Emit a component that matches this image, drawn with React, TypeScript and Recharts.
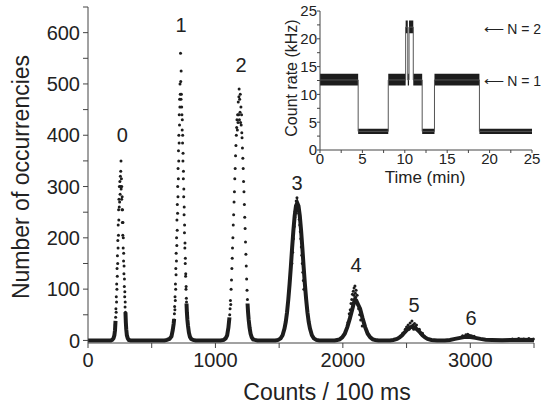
import React from "react";
import { ComposedChart, Scatter, Line, Area, XAxis, YAxis } from "recharts";

const FONT = "'Liberation Sans', Arial, Helvetica, sans-serif";
const INK = "#1d1d1d";

// histogram points (counts per 100 ms, occurrences)
const peak0: [number, number][] = [
  [214, 30], [217, 45], [219, 62], [221, 55], [222, 85], [224, 75], [225, 110], [227, 100],
  [228, 140], [230, 125], [231, 165], [233, 150], [234, 195], [236, 180], [237, 225], [239, 205],
  [240, 255], [242, 235], [243, 275], [245, 260], [246, 300], [248, 270], [250, 310], [252, 285],
  [254, 320], [256, 300], [257, 330], [259, 350], [260, 295], [262, 315], [264, 275], [265, 300],
  [267, 255], [268, 280], [270, 230], [271, 255], [273, 205], [274, 230], [276, 180], [277, 200],
  [279, 155], [280, 170], [282, 130], [283, 145], [285, 105], [286, 120], [288, 85], [289, 95],
  [291, 65], [292, 75], [294, 55],
];
const peak1: [number, number][] = [
  [676, 40], [678, 52], [680, 66], [682, 60], [683, 85], [685, 78], [686, 110], [688, 100],
  [689, 140], [691, 128], [692, 170], [694, 155], [695, 200], [697, 185], [698, 235], [700, 215],
  [701, 265], [703, 248], [704, 300], [706, 280], [707, 335], [709, 315], [710, 370], [712, 350],
  [713, 400], [715, 385], [716, 440], [718, 420], [719, 470], [721, 455], [722, 500], [724, 480],
  [726, 560], [728, 505], [730, 470], [731, 525], [733, 480], [735, 455], [737, 440], [739, 410],
  [740, 430], [742, 385], [743, 400], [745, 350], [746, 365], [748, 315], [749, 330], [751, 280],
  [752, 295], [754, 245], [755, 260], [757, 210], [758, 225], [760, 180], [761, 190], [763, 150],
  [764, 160], [766, 125], [767, 130], [769, 100], [770, 105], [772, 82], [773, 75],
];
const peak2: [number, number][] = [
  [1112, 50], [1115, 62], [1118, 78], [1120, 70], [1123, 100], [1126, 118], [1129, 140],
  [1132, 160], [1134, 180], [1137, 200], [1140, 225], [1143, 245], [1146, 270], [1149, 290],
  [1152, 315], [1155, 335], [1158, 360], [1161, 380], [1164, 400], [1167, 415], [1169, 430],
  [1172, 410], [1174, 440], [1177, 425], [1179, 465], [1182, 440], [1184, 475], [1186, 490],
  [1188, 430], [1190, 470], [1193, 445], [1195, 480], [1197, 425], [1200, 455], [1202, 420],
  [1205, 440], [1207, 405], [1209, 395], [1212, 375], [1215, 355], [1218, 335], [1221, 310],
  [1224, 290], [1227, 265], [1230, 240], [1233, 218], [1236, 192], [1239, 168], [1242, 145],
  [1245, 120], [1248, 98], [1251, 80],
];
const peak3: [number, number][] = [
  [1600, 150], [1606, 172], [1612, 198], [1618, 222], [1622, 240], [1626, 252], [1630, 262],
  [1634, 272], [1637, 260], [1640, 278], [1643, 268], [1646, 262], [1650, 255], [1654, 248],
  [1658, 236], [1662, 225], [1666, 212], [1670, 198], [1674, 182], [1678, 166], [1682, 150],
  [1686, 133], [1690, 117], [1694, 100],
];
const peak4: [number, number][] = [
  [2040, 35], [2050, 52], [2058, 60], [2064, 72], [2070, 80], [2075, 90], [2078, 70],
  [2082, 96], [2086, 88], [2088, 102], [2092, 78], [2095, 106], [2098, 92], [2100, 84],
  [2104, 98], [2108, 76], [2112, 88], [2118, 70], [2124, 62], [2132, 50], [2140, 40], [2152, 28],
];
const peak5: [number, number][] = [
  [2470, 14], [2490, 22], [2500, 26], [2512, 30], [2520, 22], [2528, 34], [2536, 26],
  [2542, 38], [2550, 30], [2556, 22], [2562, 33], [2570, 27], [2578, 30], [2588, 20],
  [2600, 22], [2612, 13], [2625, 14],
];
const peak6: [number, number][] = [
  [2940, 9], [2965, 11], [2980, 12], [2995, 10], [3010, 9], [3030, 8],
  [3330, 3], [3380, 4], [3420, 3], [3460, 4], [3495, 3],
];

// smooth underlying profile (baseline, feet of narrow peaks, broad peaks)
const profile: [number, number | null][] = [
  [0, 0], [180, 0], [190, 1], [200, 4], [207, 10], [212, 20], [216, 38], [255, null],
  [294, 55], [297, 35], [300, 22], [305, 10], [312, 4], [320, 1], [335, 0],
  [600, 0], [620, 1], [640, 3], [655, 8], [665, 20], [672, 32], [676, 42], [726, null],
  [773, 72], [776, 55], [780, 40], [785, 28], [792, 15], [800, 7], [810, 3], [825, 1], [845, 0],
  [1040, 0], [1065, 1], [1080, 4], [1092, 10], [1102, 25], [1110, 45], [1187, null],
  [1252, 72], [1256, 55], [1261, 40], [1268, 25], [1276, 13], [1285, 6], [1296, 2], [1310, 1], [1330, 0],
  [1470, 0], [1492, 1], [1512, 4], [1527, 10], [1542, 23], [1552, 36], [1562, 55], [1572, 80],
  [1582, 110], [1592, 144], [1602, 181], [1612, 215], [1622, 243], [1632, 262], [1642, 268],
  [1652, 262], [1662, 243], [1672, 215], [1682, 181], [1692, 144], [1702, 110], [1712, 80],
  [1722, 55], [1732, 36], [1742, 23], [1757, 10], [1772, 4], [1792, 1], [1815, 0],
  [1935, 0], [1955, 1], [1975, 2], [1995, 6], [2015, 13], [2035, 26], [2055, 43], [2075, 62],
  [2085, 72], [2095, 80], [2105, 78], [2115, 72], [2135, 62], [2155, 43], [2175, 26], [2195, 13],
  [2215, 6], [2235, 2], [2255, 1], [2280, 0],
  [2370, 0], [2395, 1], [2425, 3], [2445, 6], [2465, 10], [2485, 16], [2505, 21], [2525, 25],
  [2545, 27], [2565, 25], [2585, 21], [2605, 16], [2625, 10], [2645, 6], [2665, 3], [2695, 1], [2740, 0],
  [2800, 0], [2840, 1], [2880, 3], [2920, 5], [2950, 6.5], [2975, 7], [3000, 6.5], [3040, 5],
  [3080, 3], [3120, 1.5], [3170, 1], [3250, 0.5], [3320, 1], [3400, 1.5], [3500, 1],
];

const peakNames = ["0", "1", "2", "3", "4", "5", "6"];
const peakLabelX = [270, 730, 1201, 1640, 2104, 2559, 3006];
const peakLabelY = [400, 615, 537, 307, 147, 70, 43];

const countTicks = [0, 500, 1000, 1500, 2000, 2500, 3000, 3500];
const occTicks = [0, 50, 100, 150, 200, 250, 300, 350, 400, 450, 500, 550, 600, 650];

// inset: count rate (kHz) vs time (min), noise band limits
const rateTime = [0, 4.5, 4.5, 8.05, 8.05, 10.1, 10.1, 10.35, 10.35, 10.5, 10.5, 11.0, 11.0, 12.05, 12.05, 13.5, 13.5, 18.8, 18.8, 25];
const rateLow = [11.6, 11.6, 2.9, 2.9, 11.6, 11.6, 21.0, 21.0, 11.6, 11.6, 21.0, 21.0, 11.6, 11.6, 2.9, 2.9, 11.6, 11.6, 2.9, 2.9];
const rateHigh = [13.7, 13.7, 3.8, 3.8, 13.7, 13.7, 23.3, 23.3, 13.7, 13.7, 23.3, 23.3, 13.7, 13.7, 3.8, 3.8, 13.7, 13.7, 3.8, 3.8];
const rateMid = [12.6, 12.6, 3.35, 3.35, 12.6, 12.6, 22.1, 22.1, 12.6, 12.6, 22.1, 22.1, 12.6, 12.6, 3.35, 3.35, 12.6, 12.6, 3.35, 3.35];
const insetTicks = [0, 2.5, 5, 7.5, 10, 12.5, 15, 17.5, 20, 22.5, 25];

const dots = [...peak0, ...peak1, ...peak2, ...peak3, ...peak4, ...peak5, ...peak6].map(([x, y]) => ({ x, y }));
const profileData = profile.map(([x, y]) => ({ x, y }));
const labelData = peakNames.map((label, i) => ({ x: peakLabelX[i], y: peakLabelY[i], label }));
const rateData = rateTime.map((t, i) => ({ t, band: [rateLow[i], rateHigh[i]], mid: rateMid[i] }));

const Dot = (p: any) => <circle cx={p.cx} cy={p.cy} r={1.5} fill={INK} />;
const PeakLabel = (p: any) => (
  <text x={p.cx} y={p.cy} textAnchor="middle" dominantBaseline="central" fontSize={20} fontFamily={FONT} fill="#222">
    {p.payload.label}
  </text>
);

export default function App() {
  return (
    <div style={{ position: "absolute", left: 0, top: 0, width: 543, height: 410, background: "#fff" }}>
      <ComposedChart width={543} height={410} margin={{ top: 7, right: 9, left: 0, bottom: 0 }}>
        <XAxis
          dataKey="x"
          type="number"
          domain={[0, 3500]}
          ticks={countTicks}
          tickFormatter={(v) => (v % 1000 === 0 ? String(v) : "")}
          height={67}
          stroke="#444"
          tickSize={5}
          tickMargin={5}
          tick={{ fontSize: 20, fontFamily: FONT, fill: "#222" }}
          label={{
            content: () => (
              <text x={327} y={400} textAnchor="middle" fontSize={23} fontFamily={FONT} fill="#222">
                Counts / 100 ms
              </text>
            ),
          }}
        />
        <YAxis
          dataKey="y"
          type="number"
          domain={[-5, 650]}
          allowDataOverflow
          ticks={occTicks}
          tickFormatter={(v) => (v % 100 === 0 ? String(v) : "")}
          width={88}
          stroke="#444"
          tickSize={5}
          tickMargin={3}
          tick={{ fontSize: 20, fontFamily: FONT, fill: "#222" }}
          label={{
            content: () => (
              <text x={29} y={177} transform="rotate(-90 29 177)" textAnchor="middle" fontSize={23} fontFamily={FONT} fill="#222">
                Number of occurrencies
              </text>
            ),
          }}
        />
        <Line data={profileData} dataKey="y" stroke={INK} strokeWidth={4} dot={false} isAnimationActive={false} />
        <Scatter data={dots} dataKey="y" shape={Dot} isAnimationActive={false} />
        <Scatter data={labelData} dataKey="y" shape={PeakLabel} isAnimationActive={false} />
      </ComposedChart>

      <div style={{ position: "absolute", left: 270, top: 0 }}>
        <ComposedChart width={273} height={200} data={rateData} margin={{ top: 11, right: 11, left: 0, bottom: 0 }}>
          <XAxis
            dataKey="t"
            type="number"
            domain={[0, 25]}
            ticks={insetTicks}
            tickFormatter={(v) => (v % 5 === 0 ? String(v) : "")}
            height={50}
            stroke="#444"
            tickSize={3}
            tickMargin={0}
            tick={{ fontSize: 15, fontFamily: FONT, fill: "#222" }}
            label={{
              content: () => (
                <text x={155} y={183} textAnchor="middle" fontSize={17} fontFamily={FONT} fill="#222">
                  Time (min)
                </text>
              ),
            }}
          />
          <YAxis
            type="number"
            domain={[0, 25]}
            ticks={insetTicks}
            tickFormatter={(v) => (v % 5 === 0 ? String(v) : "")}
            width={50}
            stroke="#444"
            tickSize={3}
            tickMargin={0}
            tick={{ fontSize: 15, fontFamily: FONT, fill: "#222" }}
            label={{
              content: () => (
                <text x={27} y={78} transform="rotate(-90 27 78)" textAnchor="middle" fontSize={16} fontFamily={FONT} fill="#222">
                  Count rate (kHz)
                </text>
              ),
            }}
          />
          <Line dataKey="mid" stroke="#555" strokeWidth={1} dot={false} isAnimationActive={false} />
          <Area dataKey="band" stroke="none" fill={INK} fillOpacity={1} isAnimationActive={false} />
          <text x={271} y={34} textAnchor="end" fontSize={14} fontFamily={FONT} fill="#222">⟵{"\u2009"}N = 2</text>
          <text x={271} y={86} textAnchor="end" fontSize={14} fontFamily={FONT} fill="#222">⟵{"\u2009"}N = 1</text>
        </ComposedChart>
      </div>
    </div>
  );
}
